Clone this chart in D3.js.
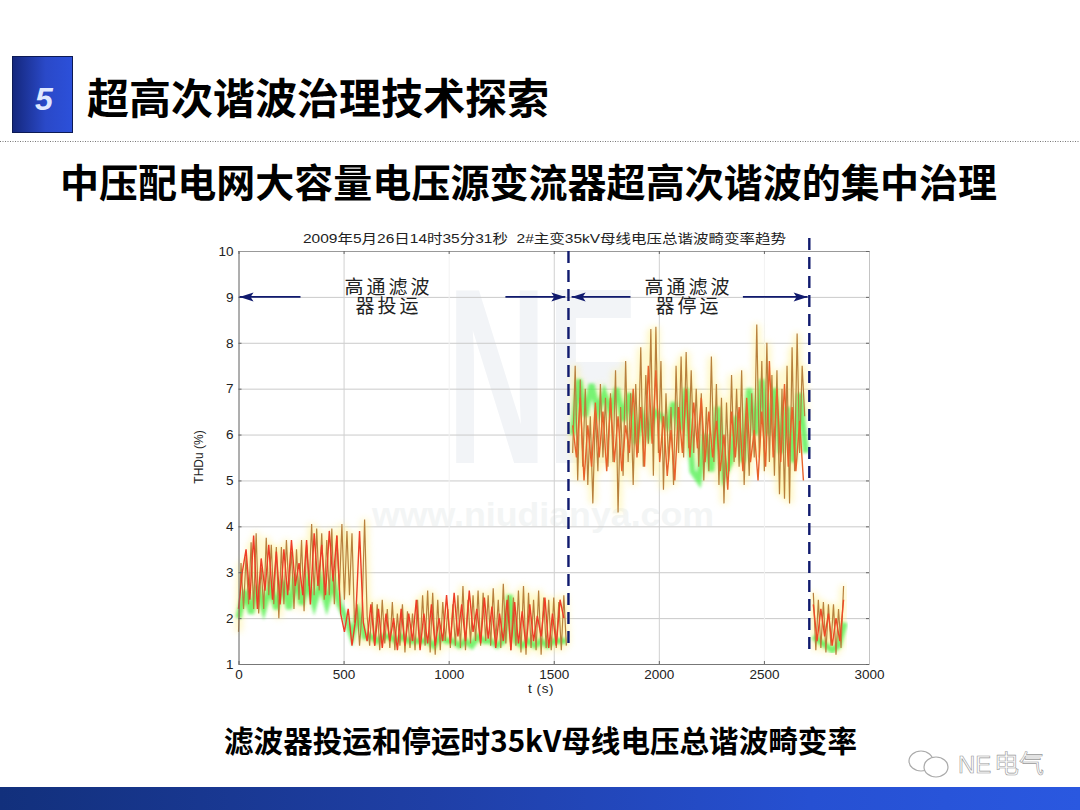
<!DOCTYPE html>
<html>
<head>
<meta charset="utf-8">
<script src="https://d3js.org/d3.v7.min.js"></script>
<style>
  html, body { margin: 0; padding: 0; background: #fff; }
  svg { display: block; }
  .cjk { font-family: "Noto Sans CJK SC", "Liberation Sans", sans-serif; }
  .num { font-family: "Liberation Sans", "Noto Sans CJK SC", sans-serif; }
</style>
</head>
<body>
<div id="chart"></div>
<script>
const slideTitle = "超高次谐波治理技术探索";
const slideSubtitle = "中压配电网大容量电压源变流器超高次谐波的集中治理";
const slideCaption = "滤波器投运和停运时35kV母线电压总谐波畸变率";
const chartTitle = "2009年5月26日14时35分31秒  2#主变35kV母线电压总谐波畸变率趋势";
const yTicks = [1, 2, 3, 4, 5, 6, 7, 8, 9, 10];
const xTicks = [0, 500, 1000, 1500, 2000, 2500, 3000];
const switchTimes = [1570, 2716];
const arrowSpans = [[0, 295], [1270, 1570], [1570, 1865], [2400, 2700]];

// values, [start second, step seconds] per segment
const onStart = 0, offStart = 1590, tailStart = 2735;
const orangeStep = 12, redStep = 18, greenStep = 30;

const orangeOn = [
  1.7,3.2,2.2,3.35,2.3,3.65,2.2,3.85,2.1,3.1,
  2.2,3.75,2.5,3.6,2.3,3.55,2.0,3.55,2.3,3.7,
  2.6,3.45,2.2,3.5,2.4,3.7,2.15,3.6,2.7,4.05,
  2.5,3.95,2.6,3.85,2.4,3.7,2.5,3.95,2.3,3.8,
  2.6,4.05,2.4,3.9,2.5,3.85,1.9,2.3,1.4,2.15,
  4.15,2.05,1.4,2.35,1.4,2.3,1.3,2.4,1.45,2.2,
  1.35,2.35,1.3,2.1,1.4,2.3,1.25,2.15,1.35,2.1,
  1.3,2.4,1.35,2.5,1.4,2.6,1.25,2.55,1.2,2.4,
  1.3,2.35,1.5,2.2,1.35,2.3,1.4,2.5,1.35,2.7,
  1.3,2.4,1.45,2.5,1.5,2.6,1.4,2.55,1.5,2.5,
  1.4,2.65,1.5,2.4,1.35,2.75,1.45,2.5,1.3,2.45,
  1.4,2.6,1.25,2.7,1.2,2.55,1.35,2.4,1.3,2.6,
  1.2,2.45,1.35,2.4,1.3,2.45,1.35,2.35,1.3,2.5,1.4
];
const redOn = [
  2.2,3.0,3.5,2.4,3.8,2.2,3.3,2.6,3.6,2.4,
  3.45,2.3,3.5,2.5,3.7,2.7,3.2,2.5,3.7,2.3,
  3.85,2.7,3.6,2.5,3.9,2.8,3.8,2.1,1.7,2.2,
  1.4,2.0,3.9,1.9,1.5,2.3,1.4,2.2,1.35,2.1,
  1.5,2.0,1.3,2.2,1.4,2.1,1.5,2.4,1.3,2.1,
  1.45,2.3,1.4,2.0,1.5,2.5,1.45,2.55,1.6,2.3,
  1.5,2.6,1.7,2.2,1.45,2.45,1.55,2.25,1.35,2.1,
  1.5,2.4,1.3,2.35,1.45,2.15,1.35,2.3,1.5,2.05,1.6,2.45,1.35,2.1,1.4,2.4,2.0
];
const greenOn = [
  2.0,2.6,2.1,2.7,2.2,2.7,2.2,2.8,2.2,2.9,
  2.3,2.8,2.3,2.8,2.3,2.8,2.3,2.0,1.6,2.1,
  1.6,1.6,1.5,1.6,1.6,1.5,1.6,1.5,1.5,1.5,
  1.5,1.4,1.6,1.5,1.5,1.4,1.5,1.4,1.6,1.5,
  1.5,1.4,1.5,2.5,1.5,1.4,1.5,1.4,1.5,1.4,1.5,1.5,1.5
];

const orangeOff = [
  5.6,7.5,5.0,7.2,5.3,7.0,4.9,6.4,4.5,6.5,
  5.2,7.1,5.5,6.8,5.3,6.9,5.4,7.4,4.3,6.6,
  5.1,7.6,5.4,6.9,4.9,7.1,5.6,7.9,5.3,7.3,
  5.8,8.3,5.1,8.35,5.6,7.6,4.8,6.9,5.4,6.6,
  4.9,7.5,5.6,7.7,5.5,7.8,5.7,7.4,5.6,7.0,
  5.3,6.9,5.0,6.6,5.2,7.7,5.4,7.1,4.9,6.8,
  4.5,6.7,5.2,7.3,5.4,7.0,5.3,7.4,4.9,6.5,
  5.1,6.9,5.5,8.4,5.5,7.6,5.2,8.0,5.4,7.3,
  5.1,7.4,4.7,7.0,4.6,7.5,4.5,7.9,5.2,8.2,5.6,7.5,6.4
];
const redOff = [
  6.2,5.5,6.8,5.0,6.2,5.3,6.7,5.5,6.5,5.2,
  6.8,5.4,6.4,5.2,6.2,5.6,7.0,5.5,6.6,5.3,
  7.5,5.8,7.4,5.4,6.4,5.1,6.1,5.0,6.6,5.6,
  7.0,5.5,6.7,5.7,6.8,5.4,6.5,5.5,6.3,5.2,
  6.0,4.8,6.5,5.5,6.6,5.2,6.8,5.4,6.1,5.0,
  6.5,5.3,7.6,5.5,7.0,5.4,7.1,5.3,6.6,5.2,6.3,5.0
];
const greenOff = [
  6.0,7.2,6.4,7.1,6.5,6.9,6.5,7.0,6.3,6.9,
  5.8,6.4,6.0,6.5,6.4,6.2,6.7,6.1,7.0,5.2,
  5.0,6.0,5.2,6.6,5.1,5.4,6.4,5.4,7.0,6.0,
  7.2,6.0,7.0,5.6,6.6,5.4,6.9,5.6
];

const orangeTail = [2.55,1.3,2.4,1.35,2.35,1.25,2.3,1.4,2.3,1.2,2.2,1.35,2.7];
const redTail = [2.3,1.5,2.2,1.6,2.1,1.4,2.0,1.5,2.4];
const greenTail = [1.6,1.5,1.4,1.3,1.4,1.9];

const svg = d3.select("#chart").append("svg")
  .attr("width", 1080)
  .attr("height", 810);

const defs = svg.append("defs");
const squareGrad = defs.append("linearGradient").attr("id", "squareGrad");
squareGrad.append("stop").attr("offset", "0%").attr("stop-color", "#14277c");
squareGrad.append("stop").attr("offset", "55%").attr("stop-color", "#2a49c8");
squareGrad.append("stop").attr("offset", "100%").attr("stop-color", "#2c50da");
const barGrad = defs.append("linearGradient").attr("id", "barGrad");
barGrad.append("stop").attr("offset", "0%").attr("stop-color", "#12307c");
barGrad.append("stop").attr("offset", "40%").attr("stop-color", "#1f3fa6");
barGrad.append("stop").attr("offset", "75%").attr("stop-color", "#2650d2");
barGrad.append("stop").attr("offset", "100%").attr("stop-color", "#2a58e0");
const blur = (id, dev) => defs.append("filter").attr("id", id)
  .attr("x", "-10%").attr("y", "-10%").attr("width", "120%").attr("height", "120%")
  .append("feGaussianBlur").attr("stdDeviation", dev);
blur("blurWide", 3.5);
blur("blurSoft", 1.4);
blur("blurLine", 0.45);

// slide header
svg.append("rect")
  .attr("x", 12.5).attr("y", 56.5).attr("width", 60).attr("height", 76)
  .attr("fill", "url(#squareGrad)").attr("stroke", "#0c1a55");
svg.append("text").attr("class", "num")
  .attr("x", 44).attr("y", 110).attr("text-anchor", "middle")
  .attr("font-size", 32).attr("font-weight", "bold").attr("font-style", "italic")
  .attr("fill", "#dfe8ff").text("5");
svg.append("text").attr("class", "cjk")
  .attr("x", 87).attr("y", 114)
  .attr("font-size", 42).attr("font-weight", "bold").attr("fill", "#000")
  .text(slideTitle);
svg.append("line")
  .attr("x1", 0).attr("x2", 1080).attr("y1", 141.5).attr("y2", 141.5)
  .attr("stroke", "#777").attr("stroke-dasharray", "1 1.5");
svg.append("text").attr("class", "cjk")
  .attr("x", 60).attr("y", 197)
  .attr("font-size", 39).attr("font-weight", "bold").attr("fill", "#000")
  .attr("textLength", 937).attr("lengthAdjust", "spacing")
  .text(slideSubtitle);

// chart
const margin = { left: 238.5, right: 869, top: 251, bottom: 664 };
const xScale = d3.scaleLinear().domain([0, 3000]).range([margin.left, margin.right]);
const yScale = d3.scaleLinear().domain([1, 10]).range([margin.bottom, margin.top]);
const plotW = margin.right - margin.left;
const plotH = margin.bottom - margin.top;

// site watermark behind the plot
svg.append("text").attr("class", "num")
  .attr("x", 447).attr("y", 463)
  .attr("font-size", 250).attr("font-weight", "bold").attr("fill", "#f2f4f7")
  .attr("textLength", 192).attr("lengthAdjust", "spacingAndGlyphs")
  .text("NE");
svg.append("text").attr("class", "num")
  .attr("x", 372).attr("y", 526)
  .attr("font-size", 34).attr("font-weight", "bold").attr("fill", "#f3f5f5")
  .attr("textLength", 342).attr("lengthAdjust", "spacingAndGlyphs")
  .text("www.niudianya.com");

// grid
const yGrid = svg.append("g")
  .attr("transform", `translate(${margin.left},0)`)
  .call(d3.axisLeft(yScale).tickValues(yTicks).tickSize(-plotW).tickFormat(""));
yGrid.select(".domain").remove();
yGrid.selectAll("line").attr("stroke", "#cacaca");
const xGrid = svg.append("g")
  .attr("transform", `translate(0,${margin.bottom})`)
  .call(d3.axisBottom(xScale).tickValues(xTicks).tickSize(-plotH).tickFormat(""));
xGrid.select(".domain").remove();
xGrid.selectAll("line").attr("stroke", d => (d === 1000 || d === 2500) ? "#f2f2f2" : "#d0d0d0");

const lineAt = (start, step) => d3.line()
  .x((d, i) => xScale(start + i * step))
  .y(d => yScale(d));

const segments = [
  { start: onStart, orange: orangeOn, red: redOn, green: greenOn, redColor: "#ee3c26" },
  { start: offStart, orange: orangeOff, red: redOff, green: greenOff, redColor: "#e8622c" },
  { start: tailStart, orange: orangeTail, red: redTail, green: greenTail, redColor: "#ee4a26" }
];

const traces = svg.append("g");
segments.forEach(seg => {
  traces.append("path").datum(seg.orange)
    .attr("fill", "none").attr("stroke", "#fff08a").attr("stroke-width", 6)
    .attr("opacity", 0.6).attr("filter", "url(#blurWide)")
    .attr("d", lineAt(seg.start, orangeStep));
  traces.append("path").datum(seg.green)
    .attr("fill", "none").attr("stroke", "#4cf04c").attr("stroke-width", 6)
    .attr("opacity", 0.75).attr("filter", "url(#blurSoft)")
    .attr("d", lineAt(seg.start, greenStep));
  traces.append("path").datum(seg.orange)
    .attr("fill", "none").attr("stroke", "#b8803e").attr("stroke-width", 1.2)
    .attr("filter", "url(#blurLine)")
    .attr("d", lineAt(seg.start, orangeStep));
  traces.append("path").datum(seg.red)
    .attr("fill", "none").attr("stroke", seg.redColor).attr("stroke-width", 1.4)
    .attr("filter", "url(#blurLine)")
    .attr("d", lineAt(seg.start, redStep));
});

// axes
const axisLeft = svg.append("g").attr("class", "num")
  .attr("transform", `translate(${margin.left},0)`)
  .call(d3.axisLeft(yScale).tickValues(yTicks).tickSizeInner(-3).tickSizeOuter(0).tickPadding(5));
const axisBottom = svg.append("g").attr("class", "num")
  .attr("transform", `translate(0,${margin.bottom})`)
  .call(d3.axisBottom(xScale).tickValues(xTicks).tickSizeInner(-3).tickSizeOuter(0).tickPadding(5)
    .tickFormat(d3.format("d")));
const axisTop = svg.append("g")
  .attr("transform", `translate(0,${margin.top})`)
  .call(d3.axisTop(xScale).tickValues(xTicks).tickSizeInner(-3).tickSizeOuter(0).tickFormat(""));
const axisRight = svg.append("g")
  .attr("transform", `translate(${margin.right},0)`)
  .call(d3.axisRight(yScale).tickValues(yTicks).tickSizeInner(-3).tickSizeOuter(0).tickFormat(""));
[axisLeft, axisBottom, axisTop, axisRight].forEach(a => {
  a.attr("font-family", null);
  a.selectAll("text").attr("font-size", 13.5).attr("fill", "#222");
  a.selectAll("line").attr("stroke", "#666");
  a.select(".domain").attr("stroke", "#777").attr("stroke-width", 1);
});
axisRight.select(".domain").attr("stroke", "#c4c4c4");
axisTop.select(".domain").attr("stroke", "#999");

svg.append("text").attr("class", "num")
  .attr("x", 541).attr("y", 693).attr("text-anchor", "middle")
  .attr("font-size", 13.5).attr("letter-spacing", 0.6).attr("fill", "#222").text("t (s)");
svg.append("text").attr("class", "num")
  .attr("transform", "translate(203,457) rotate(-90)")
  .attr("text-anchor", "middle")
  .attr("font-size", 12).attr("fill", "#222").text("THDu (%)");
svg.append("text").attr("class", "num")
  .attr("x", 303).attr("y", 243)
  .attr("font-size", 13).attr("fill", "#222")
  .attr("textLength", 483).attr("lengthAdjust", "spacingAndGlyphs")
  .attr("xml:space", "preserve")
  .text(chartTitle);

// switching moments
const navy = "#101a6e";
svg.selectAll(".switch").data(switchTimes).join("line")
  .attr("class", "switch")
  .attr("x1", d => xScale(d)).attr("x2", d => xScale(d))
  .attr("y1", (d, i) => i === 0 ? margin.top : 238)
  .attr("y2", (d, i) => i === 0 ? 650 : 656)
  .attr("stroke", navy).attr("stroke-width", 2.4)
  .attr("stroke-dasharray", "12 7");

// span arrows at the 9% level, head on the outer end
const arrowY = yScale(9);
const spanArrow = (from, to) => {
  const x1 = xScale(from), x2 = xScale(to), dir = x2 > x1 ? 1 : -1;
  svg.append("line")
    .attr("x1", x1).attr("x2", x2).attr("y1", arrowY).attr("y2", arrowY)
    .attr("stroke", navy).attr("stroke-width", 1.6);
  svg.append("path")
    .attr("d", d3.line()([[x2, arrowY], [x2 - dir * 14, arrowY - 4.5], [x2 - dir * 11, arrowY], [x2 - dir * 14, arrowY + 4.5]]) + "Z")
    .attr("fill", navy);
};
spanArrow(arrowSpans[0][1], arrowSpans[0][0] + 5);
spanArrow(arrowSpans[1][0], arrowSpans[1][1] - 15);
spanArrow(arrowSpans[2][1], arrowSpans[2][0] + 15);
spanArrow(arrowSpans[3][0], arrowSpans[3][1] + 8);

const noteLines = [
  { x: 388.5, y: 294, t: "高通滤波" },
  { x: 388.5, y: 313, t: "器投运" },
  { x: 688.5, y: 294, t: "高通滤波" },
  { x: 688.5, y: 313, t: "器停运" }
];
svg.selectAll(".note").data(noteLines).join("text")
  .attr("class", "note cjk")
  .attr("x", d => d.x).attr("y", d => d.y)
  .attr("text-anchor", "middle")
  .attr("font-size", 19).attr("letter-spacing", 3).attr("fill", "#222")
  .text(d => d.t);

svg.append("text").attr("class", "cjk")
  .attr("x", 224).attr("y", 752)
  .attr("font-size", 30).attr("font-weight", "bold").attr("fill", "#000")
  .attr("textLength", 633).attr("lengthAdjust", "spacingAndGlyphs")
  .text(slideCaption);

// wechat mark
const mark = svg.append("g").attr("fill", "#fff").attr("stroke", "#aaa").attr("stroke-width", 1.2);
mark.append("ellipse").attr("cx", 921).attr("cy", 761).attr("rx", 12).attr("ry", 10);
mark.append("ellipse").attr("cx", 936).attr("cy", 767).attr("rx", 12).attr("ry", 10);
svg.append("text").attr("class", "num")
  .attr("x", 958).attr("y", 773)
  .attr("font-size", 24).attr("fill", "#fff").attr("stroke", "#999").attr("stroke-width", 0.6)
  .text("NE");
svg.append("text").attr("class", "cjk")
  .attr("x", 994).attr("y", 773)
  .attr("font-size", 25).attr("fill", "#fff").attr("stroke", "#999").attr("stroke-width", 0.6)
  .text("电气");

// footer bar
svg.append("rect")
  .attr("x", 0).attr("y", 787).attr("width", 1080).attr("height", 23)
  .attr("fill", "url(#barGrad)");
</script>
</body>
</html>
